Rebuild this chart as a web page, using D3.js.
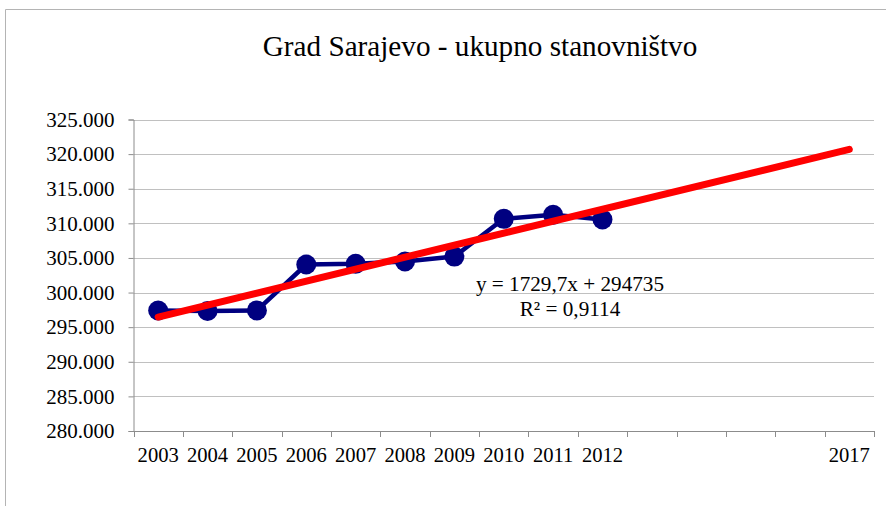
<!DOCTYPE html>
<html>
<head>
<meta charset="utf-8">
<script src="https://cdn.jsdelivr.net/npm/d3@7"></script>
<style>
  body { margin: 0; background: #fff; }
  text { font-family: "Liberation Serif", "Times New Roman", serif; fill: #000; }
</style>
</head>
<body>
<div id="chart"></div>
<script>
"use strict";

const years = ["2003", "2004", "2005", "2006", "2007", "2008", "2009", "2010", "2011", "2012",
  "2013", "2014", "2015", "2016", "2017"];
const shownLabels = ["2003", "2004", "2005", "2006", "2007", "2008", "2009", "2010", "2011", "2012", "2017"];
const population = [297400, 297330, 297420, 304050, 304150, 304480, 305200, 310650, 311230, 310560];
const yTicks = [280000, 285000, 290000, 295000, 300000, 305000, 310000, 315000, 320000, 325000];
const trendSlope = 1729.7;
const trendIntercept = 294735;
const trendText = ["y = 1729,7x + 294735", "R² = 0,9114"];

const W = 886;
const H = 506;
const margin = { left: 133.5, right: 12, top: 119.5, bottom: 75 };

const svg = d3.select("#chart").append("svg")
  .attr("width", W)
  .attr("height", H);

// frame (only top and left visible)
svg.append("path")
  .attr("d", "M5.5,506 V9.5 H886")
  .attr("fill", "none")
  .attr("stroke", "#b4b4b4")
  .attr("stroke-width", 1);

const x = d3.scaleBand()
  .domain(years)
  .range([margin.left, W - margin.right]);

const y = d3.scaleLinear()
  .domain([280000, 325000])
  .range([H - margin.bottom, margin.top]);

const fmt = (d) => d3.format(",")(d).replace(/,/g, ".");

// gridlines
svg.append("g")
  .selectAll("line")
  .data(yTicks.slice(1))
  .enter()
  .append("line")
  .attr("x1", margin.left)
  .attr("x2", W - margin.right)
  .attr("y1", (d) => Math.round(y(d)) + 0.5)
  .attr("y2", (d) => Math.round(y(d)) + 0.5)
  .attr("stroke", "#c0c0c0");

// y axis
const yAxis = svg.append("g")
  .attr("transform", `translate(${margin.left},0)`)
  .call(d3.axisLeft(y).tickValues(yTicks).tickFormat(fmt).tickSize(5).tickPadding(14));
yAxis.select(".domain").attr("stroke", "#8c8c8c");
yAxis.selectAll(".tick line").attr("stroke", "#8c8c8c");
yAxis.selectAll(".tick text")
  .attr("font-size", "21px")
  .attr("font-family", "Liberation Serif, serif")
  .attr("fill", "#000");

// x axis with ticks between categories
const xAxisY = H - margin.bottom;
const xAxis = svg.append("g");
xAxis.append("line")
  .attr("x1", margin.left)
  .attr("x2", W - margin.right)
  .attr("y1", xAxisY + 0.5)
  .attr("y2", xAxisY + 0.5)
  .attr("stroke", "#8c8c8c");
xAxis.selectAll(".sep")
  .data(years.concat(["end"]))
  .enter()
  .append("line")
  .attr("x1", (d, i) => Math.round(margin.left + i * x.step()) + 0.5)
  .attr("x2", (d, i) => Math.round(margin.left + i * x.step()) + 0.5)
  .attr("y1", xAxisY)
  .attr("y2", xAxisY + 6)
  .attr("stroke", "#8c8c8c");
xAxis.selectAll(".lbl")
  .data(shownLabels)
  .enter()
  .append("text")
  .attr("x", (d) => x(d) + x.bandwidth() / 2)
  .attr("y", xAxisY + 31)
  .attr("text-anchor", "middle")
  .attr("font-size", "20.6px")
  .text((d) => d);

// data line
const pts = population.map((v, i) => ({ year: years[i], value: v }));
const line = d3.line()
  .x((d) => x(d.year) + x.bandwidth() / 2)
  .y((d) => y(d.value));

svg.append("path")
  .datum(pts)
  .attr("d", line)
  .attr("fill", "none")
  .attr("stroke", "#000080")
  .attr("stroke-width", 4.5)
  .attr("stroke-linejoin", "round");

svg.append("g")
  .selectAll("circle")
  .data(pts)
  .enter()
  .append("circle")
  .attr("cx", (d) => x(d.year) + x.bandwidth() / 2)
  .attr("cy", (d) => y(d.value))
  .attr("r", 10)
  .attr("fill", "#000080");

// trend line
const trendPts = [1, years.length].map((n) => ({ year: years[n - 1], value: trendSlope * n + trendIntercept }));
svg.append("path")
  .datum(trendPts)
  .attr("d", line)
  .attr("fill", "none")
  .attr("stroke", "#ff0000")
  .attr("stroke-width", 7)
  .attr("stroke-linecap", "round");

// trend equation
svg.append("g")
  .selectAll("text")
  .data(trendText)
  .enter()
  .append("text")
  .attr("x", 570)
  .attr("y", (d, i) => 291 + i * 25)
  .attr("text-anchor", "middle")
  .attr("font-size", "21.2px")
  .text((d) => d);

// title
svg.append("text")
  .attr("x", 480)
  .attr("y", 56)
  .attr("text-anchor", "middle")
  .attr("font-size", "29.2px")
  .text("Grad Sarajevo - ukupno stanovništvo");
</script>
</body>
</html>
